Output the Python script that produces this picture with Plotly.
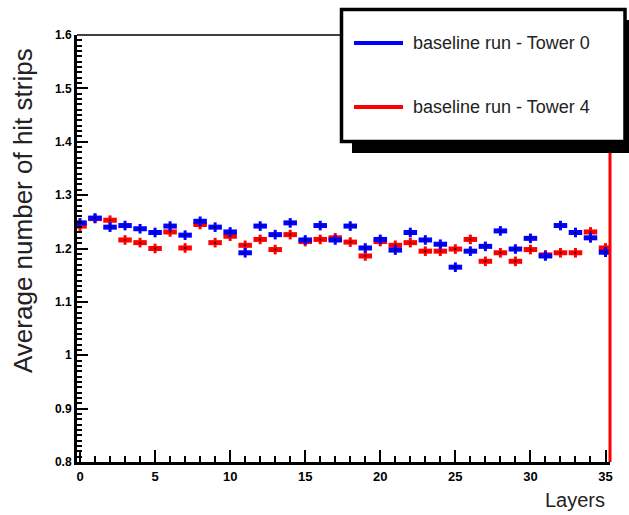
import plotly.graph_objects as go

# ---- data ----
layers = list(range(36))
tower0 = [1.248, 1.257, 1.240, 1.243, 1.237, 1.230, 1.242, 1.225, 1.251, 1.240,
          1.231, 1.192, 1.242, 1.226, 1.248, 1.216, 1.243, 1.216, 1.242, 1.201,
          1.217, 1.197, 1.230, 1.216, 1.208, 1.165, 1.195, 1.204, 1.233, 1.199,
          1.219, 1.186, 1.243, 1.230, 1.220, 1.193]
tower4 = [1.242, 1.256, 1.253, 1.216, 1.211, 1.200, 1.231, 1.201, 1.245, 1.211,
          1.223, 1.206, 1.217, 1.198, 1.226, 1.213, 1.217, 1.220, 1.212, 1.186,
          1.213, 1.206, 1.211, 1.195, 1.195, 1.199, 1.217, 1.176, 1.192, 1.176,
          1.198, 1.188, 1.192, 1.192, 1.231, 1.201]
x_half_width = [0.45] * 36
y_err = [0.009] * 36
series_names = ["baseline run - Tower 0", "baseline run - Tower 4"]
x_ticks = [0, 5, 10, 15, 20, 25, 30, 35]

BLUE = "#0000ff"
RED = "#ff0000"
FONT = "Liberation Sans, Arial, sans-serif"

fig = go.Figure()

def add_series(y, color, name):
    fig.add_trace(go.Scatter(
        x=layers, y=y, mode="markers", name=name, showlegend=False,
        marker=dict(color="black", size=2, symbol="circle"),
        error_x=dict(type="data", array=x_half_width, symmetric=True,
                     color=color, thickness=5, width=0),
        error_y=dict(type="data", array=y_err, symmetric=True,
                     color=color, thickness=3, width=0),
        cliponaxis=True,
    ))

add_series(tower4, RED, series_names[1])
add_series(tower0, BLUE, series_names[0])

# paper-coordinate helpers (plot area 77..610 x 35..462 px)
def px(v):
    return (v - 77) / 533.0

def py(v):
    return (462 - v) / 427.0

shapes = [
    dict(type="line", xref="paper", yref="paper", x0=0, x1=1, y0=1, y1=1,
         line=dict(color="black", width=1.5), layer="above"),
    dict(type="line", xref="paper", yref="paper", x0=1, x1=1, y0=0, y1=1,
         line=dict(color=RED, width=3), layer="above"),
    dict(type="rect", xref="paper", yref="paper", x0=px(352), x1=px(645),
         y0=py(153), y1=py(20), fillcolor="black", line=dict(width=0),
         layer="above"),
    dict(type="rect", xref="paper", yref="paper", x0=px(341.5), x1=px(625),
         y0=py(141.5), y1=py(9.5), fillcolor="white",
         line=dict(color="black", width=3.5), layer="above"),
    dict(type="line", xref="paper", yref="paper", x0=px(354), x1=px(403),
         y0=py(43), y1=py(43), line=dict(color=BLUE, width=4), layer="above"),
    dict(type="line", xref="paper", yref="paper", x0=px(354), x1=px(403),
         y0=py(107), y1=py(107), line=dict(color=RED, width=4), layer="above"),
]

annotations = [
    dict(text=series_names[0], xref="paper", yref="paper", x=px(411), y=py(43),
         xanchor="left", yanchor="middle", showarrow=False,
         font=dict(family=FONT, size=18, color="#222")),
    dict(text=series_names[1], xref="paper", yref="paper", x=px(411), y=py(107),
         xanchor="left", yanchor="middle", showarrow=False,
         font=dict(family=FONT, size=18, color="#222")),
    dict(text="Average number of hit strips", xref="paper", yref="paper",
         x=px(23), y=py(211), xanchor="center", yanchor="middle",
         textangle=-90, showarrow=False,
         font=dict(family=FONT, size=26, color="#222")),
    dict(text="Layers", xref="paper", yref="paper", x=px(607), y=py(500),
         xanchor="right", yanchor="middle", showarrow=False,
         font=dict(family=FONT, size=20, color="#222")),
]

fig.update_layout(
    width=629, height=515,
    margin=dict(l=77, r=19, t=35, b=53),
    paper_bgcolor="white", plot_bgcolor="white",
    showlegend=False,
    shapes=shapes, annotations=annotations,
    font=dict(family=FONT, color="black"),
)

fig.update_xaxes(
    range=[-0.2, 35.3], tickmode="array", tickvals=x_ticks,
    ticks="inside", ticklen=12, tickwidth=2, tickcolor="black",
    minor=dict(dtick=1, tick0=0, ticks="inside", ticklen=6, tickwidth=2,
               tickcolor="black"),
    showline=True, linewidth=3, linecolor="black",
    showgrid=False, zeroline=False,
    tickfont=dict(family=FONT, size=13, color="black", weight="bold"),
)
fig.update_yaxes(
    range=[0.8, 1.6], dtick=0.1, tick0=0.8,
    ticks="inside", ticklen=11, tickwidth=2, tickcolor="black",
    minor=dict(dtick=0.01, tick0=0.8, ticks="inside", ticklen=5, tickwidth=1.5,
               tickcolor="black"),
    showline=True, linewidth=3, linecolor="black",
    showgrid=False, zeroline=False,
    tickfont=dict(family=FONT, size=12, color="black", weight="bold"),
)

fig.write_html("out.html")
